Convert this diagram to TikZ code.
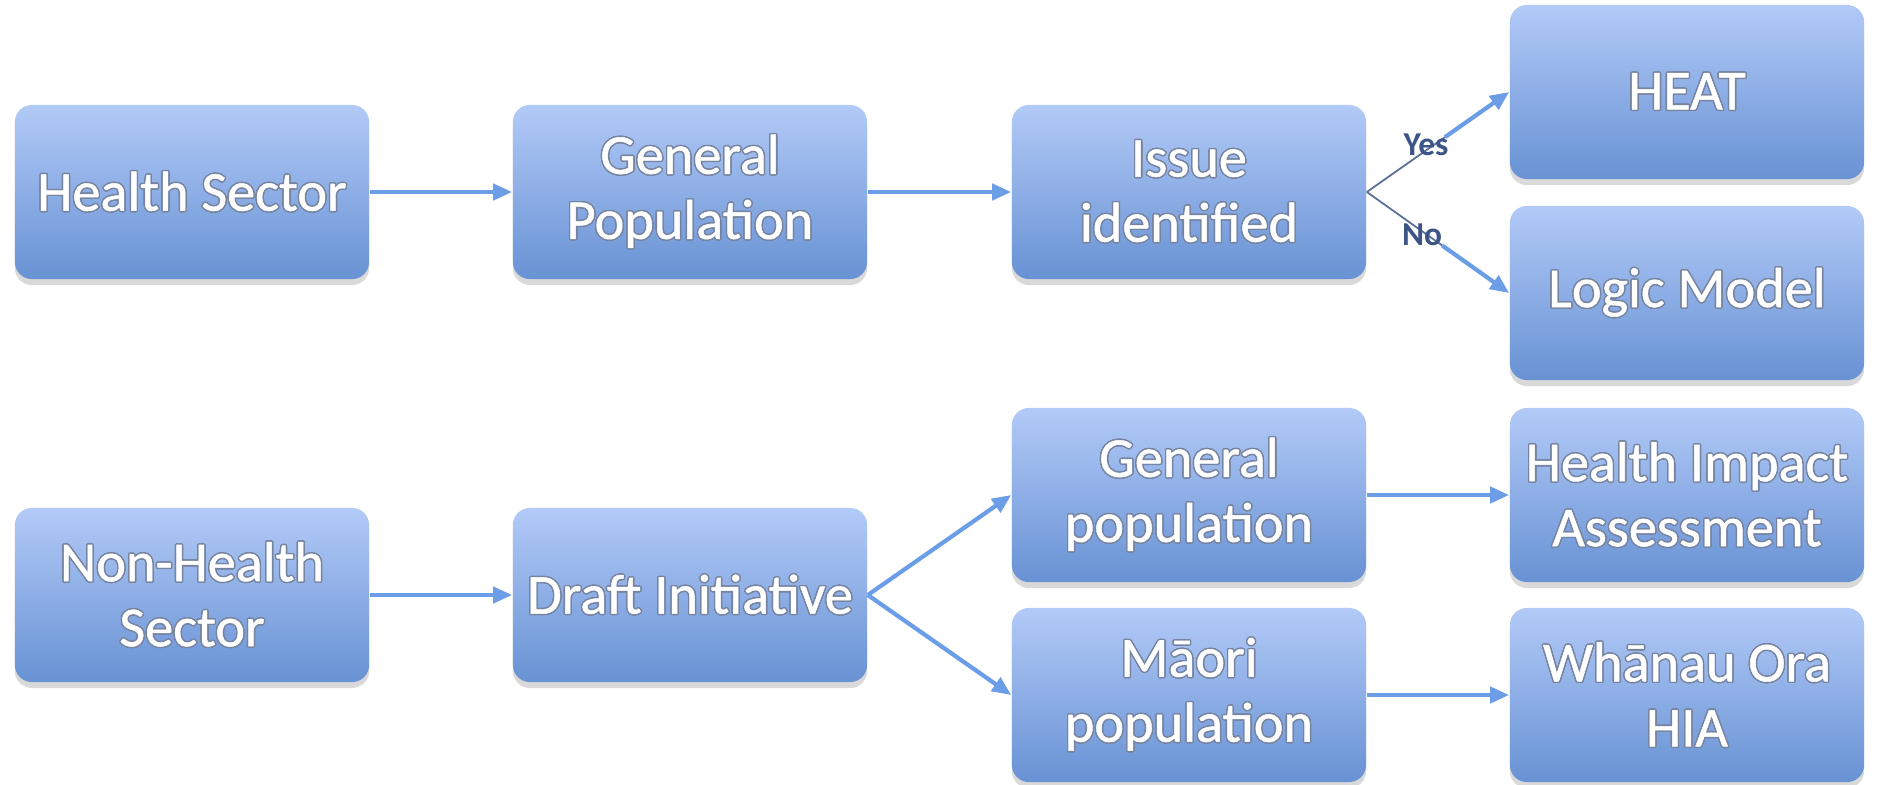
\documentclass[tikz,border=0pt]{standalone}
\usepackage{fontspec}
\setmainfont{Carlito}
\newfontfamily\boxfont{Carlito}[FakeBold=0.9]
\usepackage[copies]{contour}
\usetikzlibrary{arrows.meta,positioning,calc,shadows}
\definecolor{boxtop}{RGB}{178,202,247}
\definecolor{boxbot}{RGB}{104,146,212}
\definecolor{flowcolor}{RGB}{108,158,232}
\definecolor{labelcolor}{RGB}{60,84,134}
\definecolor{glowcolor}{RGB}{118,132,160}
\contourlength{0.4pt}
\newcommand{\glow}[1]{\contour{glowcolor}{#1}}

\begin{document}
\begin{tikzpicture}[x=0.01cm,y=-0.01cm,
    box/.style={rectangle,rounded corners=1.7mm,top color=boxtop,bottom color=boxbot,
        draw=none,minimum width=3.54cm,minimum height=1.74cm,inner sep=0pt,
        text=white,align=center,font=\boxfont\fontsize{16}{18.5}\selectfont,
        drop shadow={shadow xshift=0pt,shadow yshift=-0.6mm,opacity=0.3}},
    flow/.style={-{Triangle[length=1.9mm,width=1.6mm]},line width=1.2pt,flowcolor},
    thinln/.style={line width=0.5pt,labelcolor!85},
    yn/.style={font=\fontsize{9.5}{10}\selectfont\bfseries,text=labelcolor,inner sep=0pt}]
    \useasboundingbox (0,0) rectangle (1881,784);

    % Health sector route
    \node[box] (hs) at (192,192) {\glow{Health Sector}};
    \node[box] (gp) at (690,192) {\glow{General}\\\glow{Population}};
    \node[box] (iss) at (1189,192) {\glow{Issue}\\\glow{identified}};
    \node[box] (heat) at (1687,92) {\glow{HEAT}};
    \node[box] (logic) at (1687,293) {\glow{Logic Model}};

    % Non-health sector route
    \node[box] (nhs) at (192,595) {\glow{Non-Health}\\\glow{Sector}};
    \node[box] (draft) at (690,595) {\glow{Draft Initiative}};
    \node[box] (genpop) at (1189,495) {\glow{General}\\\glow{population}};
    \node[box] (maori) at (1189,695) {\glow{Māori}\\\glow{population}};
    \node[box] (hia) at (1687,495) {\glow{Health Impact}\\\glow{Assessment}};
    \node[box] (whanau) at (1687,695) {\glow{Whānau Ora}\\\glow{HIA}};

    \draw[flow] (hs) -- (gp);
    \draw[flow] (gp) -- (iss);
    \draw[flow] (nhs) -- (draft);
    \draw[flow] (draft.east) -- (genpop.west);
    \draw[flow] (draft.east) -- (maori.west);
    \draw[flow] (genpop) -- (hia);
    \draw[flow] (maori) -- (whanau);

    % Yes / No split
    \coordinate (yesbrk) at ($(iss.east)!0.55!(heat.west)$);
    \coordinate (nobrk) at ($(iss.east)!0.53!(logic.west)$);
    \draw[thinln] (iss.east) -- (yesbrk);
    \draw[thinln] (iss.east) -- (nobrk);
    \draw[flow] (yesbrk) -- (heat.west);
    \draw[flow] (nobrk) -- (logic.west);
    \node[yn] (yes) at (1426,145) {Yes};
    \node[yn] (no) at (1422,235) {No};
\end{tikzpicture}
\end{document}
